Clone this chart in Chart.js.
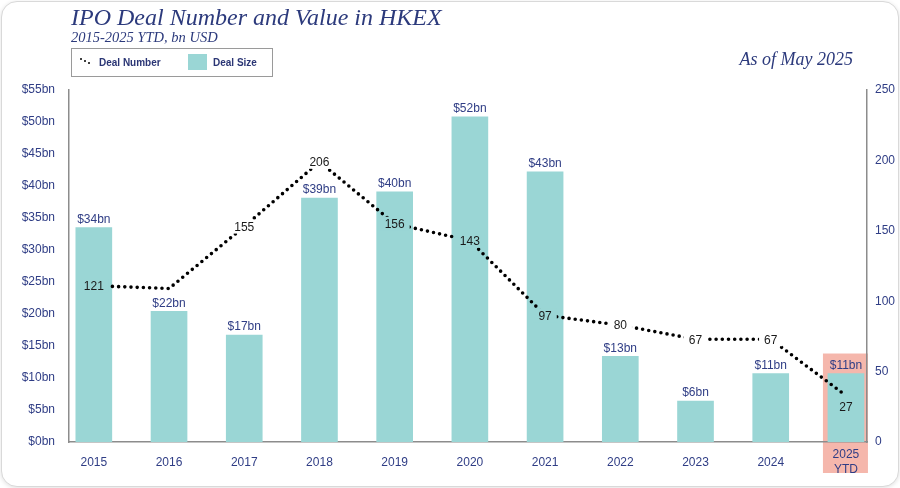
<!DOCTYPE html>
<html>
<head>
<meta charset="utf-8">
<script src="https://cdn.jsdelivr.net/npm/chart.js@4"></script>
<style>
body { margin: 0; background: #fff; }
#panel {
    position: absolute; left: 1px; top: 1px; width: 896px; height: 484px;
    border: 1px solid #d9d9d9; border-radius: 16px;
    box-shadow: 0 1px 4px rgba(0,0,0,0.12); overflow: hidden; background: #fff;
}
#view-canvas { position: absolute; left: -1px; top: -1px; }
.serif { font-family: "Liberation Serif", serif; font-style: italic; color: #2c3a7c; position: absolute; white-space: nowrap; }
#title { left: 69px; top: 2px; font-size: 24px; }
#subtitle { left: 69px; top: 27px; font-size: 14.5px; }
#asof { right: 45px; top: 47px; font-size: 18px; }
#legend {
    position: absolute; left: 69px; top: 46px; width: 200px; height: 27px;
    border: 1px solid #9a9a9a; font-family: "Liberation Sans", Arial, sans-serif;
    font-weight: bold; font-size: 10px; color: #2b3675;
}
#legend span { position: absolute; top: 8px; }
.dot { position: absolute; width: 2px; height: 2px; background: #000; border-radius: 1px; }
#sw { position: absolute; left: 116px; top: 5px; width: 19px; height: 16px; background: #9ad6d5; }
</style>
</head>
<body>
<div id="panel">
    <canvas id="view-canvas" width="900" height="488"></canvas>
    <div id="title" class="serif">IPO Deal Number and Value in HKEX</div>
    <div id="subtitle" class="serif">2015-2025 YTD, bn USD</div>
    <div id="asof" class="serif">As of May 2025</div>
    <div id="legend">
        <div class="dot" style="left:8px;top:9px"></div>
        <div class="dot" style="left:12px;top:11px"></div>
        <div class="dot" style="left:16px;top:13px"></div>
        <span style="left:27px">Deal Number</span>
        <div id="sw"></div>
        <span style="left:141px">Deal Size</span>
    </div>
</div>
<script>
var canvas = document.getElementById('view-canvas');

// data
var years = ['2015', '2016', '2017', '2018', '2019', '2020', '2021', '2022', '2023', '2024', ['2025', 'YTD']];
var dealSize = [33.5, 20.4, 16.7, 38.1, 39.1, 50.8, 42.2, 13.4, 6.4, 10.7, 10.7];
var dealSizeLabels = ['$34bn', '$22bn', '$17bn', '$39bn', '$40bn', '$52bn', '$43bn', '$13bn', '$6bn', '$11bn', '$11bn'];
var dealNumber = [111, 109, 153, 199, 155, 143, 90, 83, 73, 73, 33];
var dealNumberLabels = ['121', '', '155', '206', '156', '143', '97', '80', '67', '67', '27'];

var navy = '#2f3d85';
var teal = '#9ad6d5';
var pink = '#f5b7ac';

// highlight box behind 2025 YTD
var highlight = {
    id: 'highlight',
    beforeDraw: function (chart) {
        var ctx = chart.ctx;
        var bar = chart.getDatasetMeta(0).data[10];
        var xs = chart.scales.x;
        var cx = xs.getPixelForValue(10);
        ctx.save();
        ctx.fillStyle = pink;
        ctx.fillRect(cx - 23, bar.y - 20, 45, chart.chartArea.bottom - bar.y + 51);
        ctx.restore();
    }
};

// value labels for bars and line points
var valueLabels = {
    id: 'valueLabels',
    afterDatasetsDraw: function (chart) {
        var ctx = chart.ctx;
        var bars = chart.getDatasetMeta(0).data;
        var pts = chart.getDatasetMeta(1).data;
        ctx.save();
        ctx.font = '12px "Liberation Sans", Arial, sans-serif';
        ctx.textAlign = 'center';
        ctx.textBaseline = 'bottom';
        ctx.fillStyle = navy;
        bars.forEach(function (b, i) {
            ctx.fillText(dealSizeLabels[i], b.x, b.y - 2);
        });
        ctx.textBaseline = 'middle';
        pts.forEach(function (p, i) {
            var txt = dealNumberLabels[i];
            if (!txt) return;
            var w = ctx.measureText(txt).width;
            var y = p.y;
            if (i == pts.length - 1) {
                y = p.y + 11;
            } else {
                // gap in the dotted line behind the label
                ctx.fillStyle = p.y > bars[i].y ? teal : '#fff';
                ctx.fillRect(p.x - w / 2 - 5, p.y - 7, w + 10, 14);
            }
            ctx.fillStyle = '#1a1a1a';
            ctx.fillText(txt, p.x, y + 1);
        });
        ctx.restore();
    }
};

function rendererMain() {
    const data = {
        datasets: [{
            type: 'bar',
            label: 'Deal Size',
            backgroundColor: teal,
            barThickness: 36,
            yAxisID: 'y',
            order: 2,
            data: dealSize.map((v, i) => ({ x: i, y: v }))
        },
        {
            type: 'line',
            label: 'Deal Number',
            borderColor: '#000',
            borderWidth: 3.6,
            borderDash: [0, 6.2],
            borderCapStyle: 'round',
            pointRadius: 0,
            tension: 0,
            yAxisID: 'y1',
            order: 1,
            data: dealNumber.map((v, i) => ({ x: i, y: v }))
        }]
    };

    const tickFont = { family: '"Liberation Sans", Arial, sans-serif', size: 12 };
    const border = { display: true, color: '#8c8c8c', width: 1.5 };

    const config = {
        data,
        options: {
            responsive: false,
            animation: false,
            layout: { padding: { top: 89 } },
            scales: {
                x: {
                    type: 'linear',
                    offset: false,
                    min: -0.33,
                    max: 10.28,
                    grid: { display: false, drawTicks: false, offset: false },
                    border: border,
                    ticks: {
                        stepSize: 1,
                        includeBounds: false,
                        autoSkip: false,
                        maxRotation: 0,
                        crossAlign: 'center',
                        padding: 13,
                        color: navy,
                        font: tickFont,
                        callback: v => Number.isInteger(v) ? years[v] : ''
                    },
                    afterFit: s => { s.height = 47; }
                },
                y: {
                    position: 'left',
                    min: 0,
                    max: 55,
                    grid: { display: false, drawTicks: false },
                    border: border,
                    ticks: {
                        stepSize: 5,
                        padding: 14,
                        color: navy,
                        font: tickFont,
                        callback: v => '$' + v + 'bn'
                    },
                    afterFit: s => { s.width = 68; }
                },
                y1: {
                    position: 'right',
                    min: 0,
                    max: 250,
                    grid: { display: false, drawTicks: false },
                    border: border,
                    ticks: {
                        stepSize: 50,
                        padding: 8,
                        color: navy,
                        font: tickFont
                    },
                    afterFit: s => { s.width = 34; }
                }
            },
            plugins: {
                legend: { display: false },
                tooltip: { enabled: false }
            }
        },
        plugins: [highlight, valueLabels]
    };
    new Chart(canvas, config);
}

rendererMain();
</script>
</body>
</html>
